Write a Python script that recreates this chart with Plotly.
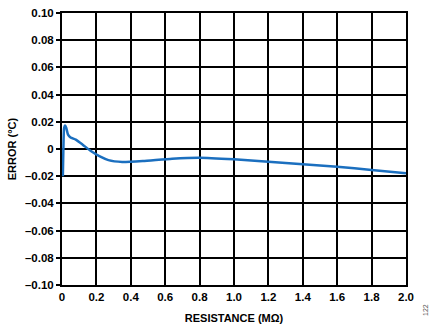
import plotly.graph_objects as go

resistance = [0.005, 0.008, 0.012, 0.018, 0.025, 0.035, 0.05, 0.08, 0.12, 0.17, 0.22, 0.27,
              0.35, 0.47, 0.64, 0.8, 1.0, 1.2, 1.4, 1.6, 1.8, 2.0]
error = [-0.020, 0.000, 0.015, 0.0172, 0.0155, 0.0105, 0.0085, 0.0069, 0.0032, -0.0017, -0.0055,
         -0.0082, -0.0095, -0.0088, -0.0071, -0.0064, -0.0076, -0.0093, -0.0113, -0.0130,
         -0.0154, -0.0179]

x_ticks = [0, 0.2, 0.4, 0.6, 0.8, 1.0, 1.2, 1.4, 1.6, 1.8, 2.0]
x_labels = ["0", "0.2", "0.4", "0.6", "0.8", "1.0", "1.2", "1.4", "1.6", "1.8", "2.0"]
y_ticks = [0.10, 0.08, 0.06, 0.04, 0.02, 0, -0.02, -0.04, -0.06, -0.08, -0.10]
y_labels = ["0.10", "0.08", "0.06", "0.04", "0.02", "0", "–0.02", "–0.04", "–0.06", "–0.08", "–0.10"]

fam = "Liberation Sans, Arial, sans-serif"
font = dict(family=fam, size=11, color="black")

fig = go.Figure()
fig.add_trace(go.Scatter(x=resistance, y=error, mode="lines",
                         line=dict(color="#1b6fbf", width=2.5, shape="spline", smoothing=0.5),
                         showlegend=False))

fig.update_layout(
    width=433, height=331,
    margin=dict(l=62, r=27, t=13, b=46),
    paper_bgcolor="white", plot_bgcolor="white",
    font=font,
    xaxis=dict(range=[0, 2.0], tickvals=x_ticks, ticktext=x_labels, automargin=False,
               showgrid=True, gridcolor="black", gridwidth=2,
               showline=True, linecolor="black", linewidth=2, mirror=True,
               ticks="", zeroline=False,
               tickfont=dict(family=fam, size=11.5, color="black", weight="bold"),
               title=dict(text="<b>RESISTANCE (MΩ)</b>", standoff=13,
                          font=dict(family=fam, size=11, color="black"))),
    yaxis=dict(range=[-0.10, 0.10], tickvals=y_ticks, ticktext=y_labels, automargin=False,
               showgrid=True, gridcolor="black", gridwidth=2,
               showline=True, linecolor="black", linewidth=2, mirror=True,
               ticks="outside", ticklen=4, tickwidth=2, tickcolor="black", zeroline=False,
               tickfont=dict(family=fam, size=11.5, color="black", weight="bold"),
               title=dict(text="<b>ERROR (°C)</b>", standoff=6,
                          font=dict(family=fam, size=11, color="black"))),
    annotations=[dict(text="122", xref="paper", yref="paper",
                      x=(425 - 62) / 344, y=-(310 - 285) / 272,
                      xanchor="center", yanchor="middle", showarrow=False,
                      textangle=-90, font=dict(family=fam, size=7, color="#555555"))],
)
fig.write_html("out.html")
